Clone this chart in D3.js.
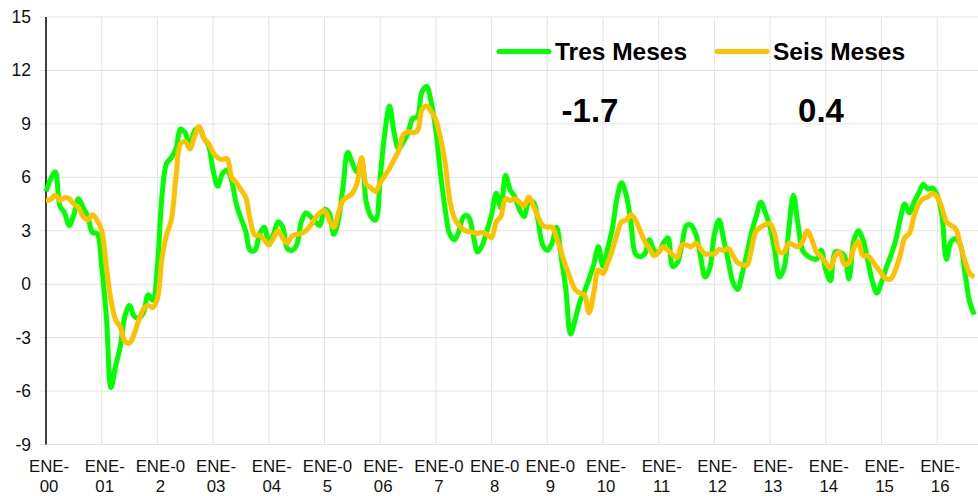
<!DOCTYPE html>
<html>
<head>
<meta charset="utf-8">
<script src="https://cdn.jsdelivr.net/npm/d3@7"></script>
<style>
  body { margin: 0; background: #fff; }
  svg { display: block; font-family: "Liberation Sans", Arial, sans-serif; }
</style>
</head>
<body>
<svg id="chart" width="978" height="496"></svg>
<script>
// monthly values, Jan 2000 .. Sep 2016
var tresMeses = [
  5.2, 5.9, 6.3, 4.4, 4.0, 3.3, 3.9, 4.8, 4.3, 3.8, 2.9, 2.85,
  1.0, -1.8, -5.8, -4.6, -3.5, -1.8, -1.2, -1.8, -1.9, -1.6, -0.6, -0.9,
  1.0, 5.0, 6.8, 7.1, 7.6, 8.7, 8.5, 7.7, 8.6, 8.8, 8.2, 7.8,
  6.4, 5.5, 6.2, 6.4, 5.8, 4.5, 3.7, 3.0, 1.9, 1.9, 2.8, 3.2,
  2.4, 2.8, 3.5, 3.2, 2.0, 1.9, 2.2, 3.5, 4.0, 3.8, 3.5, 3.3,
  4.2, 4.0, 2.8, 3.6, 5.5, 7.4, 6.8, 6.3, 7.0, 4.6, 3.8, 3.6,
  6.0, 8.5, 10.0, 8.5, 7.6, 8.0, 8.5, 9.3, 9.4, 10.8, 11.1, 10.2,
  8.6, 6.2, 4.2, 2.8, 2.5, 3.0, 3.8, 3.8, 2.8, 1.8, 2.2, 3.0,
  3.9, 5.1, 4.3, 6.1, 5.3, 4.9, 4.2, 3.8, 4.6, 4.6, 3.6, 2.2,
  1.9, 2.3, 3.2, 1.5, -0.3, -2.8, -2.0, -1.0, -0.4, 0.3, 1.1, 2.1,
  1.0, 2.0, 3.1, 4.8, 5.7, 5.0, 3.5, 1.7, 1.55, 1.7, 2.5, 1.9,
  1.8, 2.3, 2.6, 1.0, 1.2, 2.2, 3.3, 3.3, 2.8, 1.6, 0.4, 0.9,
  2.8, 3.6, 2.5, 1.3, 0.1, -0.3, 0.6, 1.7, 2.9, 3.8, 4.6, 4.0,
  3.2, 1.9, 0.4, 0.9, 3.0, 5.0, 3.4, 1.9, 1.6, 1.45, 1.4, 1.9,
  0.8, 0.2, 1.8, 1.8, 1.6, 0.3, 2.4, 3.0, 2.5, 1.4, 0.2, -0.5,
  0.1, 0.9, 1.6, 2.4, 3.6, 4.5, 4.0, 4.6, 5.1, 5.6, 5.35, 5.4,
  5.0, 3.9, 1.4, 2.4, 2.55, 2.2, 0.6, -1.0, -1.7
];

var seisMeses = [
  4.7, 4.75, 5.0, 4.7, 4.85, 4.8, 4.5, 4.3, 3.8, 3.6, 3.9, 3.6,
  3.0, 1.0, -0.9, -2.0, -2.4, -3.2, -3.3, -2.8, -2.0, -1.4, -1.2, -1.3,
  -0.8, 1.5, 2.8, 3.6, 6.0, 7.9, 8.0, 7.6, 8.3, 8.85, 8.2, 7.9,
  7.4, 7.1, 7.0, 7.05, 6.0, 5.7, 5.3, 4.9, 3.6, 2.75, 2.75, 2.5,
  2.2, 2.6, 3.0, 2.6, 2.3, 2.7, 2.8, 2.85, 3.0, 3.3, 3.7, 4.0,
  4.15, 3.6, 3.2, 4.0, 4.7, 4.9, 5.1, 5.65, 7.1, 5.6, 5.4, 5.2,
  5.7, 6.1, 6.5, 7.0, 7.5, 8.4, 8.55, 8.5, 8.6, 9.8, 10.0, 9.7,
  9.2, 8.2, 6.8, 4.7, 3.7, 3.3, 3.05, 2.95, 2.9, 2.85, 2.9, 2.8,
  2.6, 3.5, 3.8, 4.8, 4.7, 4.8, 4.6, 4.4, 4.9, 4.4, 3.8, 3.3,
  3.2, 3.2, 2.6, 1.8, 1.0, 0.3, -0.3, -0.5, -0.6, -1.6, -0.5, 0.8,
  0.6, 1.2, 1.9, 2.8, 3.5, 3.6, 3.9, 3.6, 3.0, 2.4, 2.0, 1.6,
  1.8, 2.1, 1.9, 1.65, 1.5, 2.2, 2.2, 2.1, 2.3, 2.0, 1.7, 1.7,
  1.7, 1.95, 1.9, 2.0, 1.6, 1.2, 1.1, 1.05, 2.0, 3.0, 3.2, 3.35,
  3.4, 2.8, 1.8, 1.8, 2.3, 2.2, 2.1, 2.4, 3.0, 2.5, 1.8, 1.55,
  1.2, 0.9, 1.6, 1.8, 1.1, 1.2, 2.0, 2.4, 1.6, 1.6, 1.3, 0.95,
  0.6, 0.3, 0.3, 0.8, 1.6, 2.6, 2.85, 3.8, 4.5, 4.8, 4.9, 5.1,
  4.9, 4.3, 3.5, 3.3, 3.1, 2.2, 1.3, 0.6, 0.4
];

// x labels, split in two lines like the original
var xLabels = [
  ["ENE-", "00"], ["ENE-", "01"], ["ENE-0", "2"], ["ENE-", "03"], ["ENE-", "04"],
  ["ENE-0", "5"], ["ENE-", "06"], ["ENE-0", "7"], ["ENE-0", "8"], ["ENE-0", "9"],
  ["ENE-", "10"], ["ENE-", "11"], ["ENE-", "12"], ["ENE-", "13"], ["ENE-", "14"],
  ["ENE-", "15"], ["ENE-", "16"]
];
var yTicks = [-9, -6, -3, 0, 3, 6, 9, 12, 15];
var seriesNames = ["Tres Meses", "Seis Meses"];
var lastValues = ["-1.7", "0.4"];
var colors = ["#00ff00", "#ffc000"];

var svg = d3.select("#chart");

var plotLeft = 46, plotTop = 17, plotBottom = 444.5;
var monthW = 55.7 / 12;

var x = d3.scaleLinear()
  .domain([0, 200])
  .range([plotLeft, plotLeft + 200 * monthW]);

var y = d3.scaleLinear()
  .domain([-9, 15])
  .range([plotBottom, plotTop]);

// horizontal grid + small left ticks
svg.append("g")
  .selectAll("line")
  .data(yTicks)
  .join("line")
    .attr("x1", plotLeft - 6)
    .attr("x2", 978)
    .attr("y1", function(d) { return y(d); })
    .attr("y2", function(d) { return y(d); })
    .style("stroke", "#e3e3e3")
    .style("stroke-width", 1);

// vertical grid at each January
svg.append("g")
  .selectAll("line")
  .data(d3.range(1, 17))
  .join("line")
    .attr("x1", function(d) { return x(d * 12); })
    .attr("x2", function(d) { return x(d * 12); })
    .attr("y1", plotTop)
    .attr("y2", plotBottom)
    .style("stroke", "#e3e3e3")
    .style("stroke-width", 1);

// y axis line
svg.append("line")
  .attr("x1", plotLeft).attr("x2", plotLeft)
  .attr("y1", plotTop).attr("y2", plotBottom)
  .style("stroke", "#000")
  .style("stroke-width", 1.5);

// y labels
svg.append("g")
  .selectAll("text")
  .data(yTicks)
  .join("text")
    .attr("x", 31)
    .attr("y", function(d) { return y(d) + 6; })
    .attr("text-anchor", "end")
    .style("font-size", "17.5px")
    .style("fill", "#111")
    .text(function(d) { return d; });

// x labels
var xl = svg.append("g")
  .selectAll("text")
  .data(xLabels)
  .join("text")
    .attr("text-anchor", "middle")
    .style("font-size", "16.8px")
    .style("fill", "#111");

xl.append("tspan")
  .attr("x", function(d, i) { return x(i * 12) + 3; })
  .attr("y", 472)
  .text(function(d) { return d[0]; });

xl.append("tspan")
  .attr("x", function(d, i) { return x(i * 12) + 3; })
  .attr("y", 492)
  .text(function(d) { return d[1]; });

// series lines
var line = d3.line()
  .x(function(d, i) { return x(i); })
  .y(function(d) { return y(d); })
  .curve(d3.curveCatmullRom.alpha(0.5));

svg.append("path")
  .datum(tresMeses)
  .attr("d", line)
  .style("fill", "none")
  .style("stroke", colors[0])
  .style("stroke-width", 5)
  .style("stroke-linejoin", "round");

svg.append("path")
  .datum(seisMeses)
  .attr("d", line)
  .style("fill", "none")
  .style("stroke", colors[1])
  .style("stroke-width", 5)
  .style("stroke-linejoin", "round");

// legend
var legX = [499, 717];
seriesNames.forEach(function(name, i) {
  svg.append("line")
    .attr("x1", legX[i]).attr("x2", legX[i] + 50)
    .attr("y1", 51.5).attr("y2", 51.5)
    .style("stroke", colors[i])
    .style("stroke-width", 5)
    .style("stroke-linecap", "round");
  svg.append("text")
    .attr("x", legX[i] + 56)
    .attr("y", 60)
    .style("font-size", "24.5px")
    .style("font-weight", "bold")
    .style("fill", "#000")
    .text(name);
});

// latest values
var valX = [590, 821];
lastValues.forEach(function(v, i) {
  svg.append("text")
    .attr("x", valX[i])
    .attr("y", 122)
    .attr("text-anchor", "middle")
    .style("font-size", "33px")
    .style("font-weight", "bold")
    .style("fill", "#000")
    .text(v);
});
</script>
</body>
</html>
